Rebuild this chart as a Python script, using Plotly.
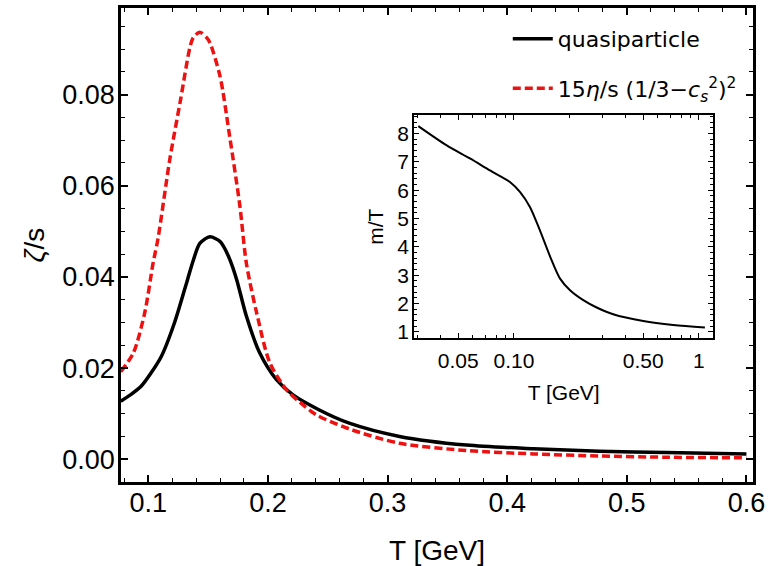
import plotly.graph_objects as go

# ---- data ----
T_quasi = [0.077, 0.085, 0.094, 0.102, 0.111, 0.122, 0.1328, 0.1376, 0.1432, 0.1516,
           0.1599, 0.1627, 0.1682, 0.1739, 0.182, 0.193, 0.207, 0.221, 0.243, 0.268,
           0.31, 0.366, 0.422, 0.477, 0.533, 0.6]
zeta_quasi = [0.0127, 0.0141, 0.0160, 0.0188, 0.0226, 0.0300, 0.0394, 0.0436, 0.0474, 0.0488,
              0.0478, 0.0468, 0.0438, 0.0394, 0.0314, 0.0234, 0.0175, 0.0141, 0.0108, 0.0079,
              0.0050, 0.0031, 0.0023, 0.00176, 0.00146, 0.00116]

T_ratio = [0.077, 0.0875, 0.097, 0.104, 0.108, 0.118, 0.127, 0.135, 0.1376, 0.143,
           0.1488, 0.1515, 0.160, 0.168, 0.1766, 0.182, 0.1906, 0.2017, 0.2156, 0.2267,
           0.2407, 0.2685, 0.310, 0.366, 0.422, 0.477, 0.533, 0.6]
zeta_ratio = [0.0192, 0.0233, 0.0321, 0.0430, 0.0482, 0.0658, 0.0789, 0.0906, 0.0925, 0.0937,
              0.0925, 0.0914, 0.0840, 0.0709, 0.0555, 0.0430, 0.0321, 0.0211, 0.0152, 0.0125,
              0.0097, 0.0066, 0.0035, 0.0019, 0.00116, 0.0007, 0.00044, 0.00029]

T_inset = [0.0304, 0.0433, 0.0578, 0.0741, 0.0951, 0.1077, 0.122, 0.138, 0.157, 0.1775,
           0.201, 0.237, 0.280, 0.344, 0.500, 0.726, 1.077]
mT_inset = [8.26, 7.58, 7.12, 6.70, 6.29, 5.94, 5.41, 4.59, 3.65, 2.88,
            2.47, 2.12, 1.86, 1.62, 1.38, 1.24, 1.15]

x_ticks = [0.1, 0.2, 0.3, 0.4, 0.5, 0.6]
x_ticklabels = ["0.1", "0.2", "0.3", "0.4", "0.5", "0.6"]
y_ticks = [0.0, 0.02, 0.04, 0.06, 0.08]
y_ticklabels = ["0.00", "0.02", "0.04", "0.06", "0.08"]
inset_xticks = [0.05, 0.1, 0.5, 1]
inset_xticklabels = ["0.05", "0.10", "0.50", "1"]
inset_xminor = [0.03, 0.04, 0.06, 0.07, 0.08, 0.09, 0.2, 0.3, 0.4, 0.6, 0.7, 0.8, 0.9]
inset_yticks = [1, 2, 3, 4, 5, 6, 7, 8]

FONT = "Liberation Sans, Arial, Helvetica, sans-serif"
LEGFONT = "DejaVu Sans, Liberation Sans, sans-serif"
RED = "#ee1111"

fig = go.Figure()
fig.add_trace(go.Scatter(x=T_quasi, y=zeta_quasi, mode="lines", name="quasiparticle",
                         line=dict(color="black", width=3.5, shape="spline", smoothing=0.8),
                         xaxis="x", yaxis="y", legendgroup="a"))
fig.add_trace(go.Scatter(x=T_ratio, y=zeta_ratio, mode="lines",
                         name="15<i>η</i>/s (1/3−<i>c</i><sub><i>s</i></sub><sup>2</sup>)<sup>2</sup>",
                         line=dict(color=RED, width=3.5, dash="8px,4px", shape="spline", smoothing=0.8),
                         xaxis="x", yaxis="y", legendgroup="b"))
fig.add_trace(go.Scatter(x=T_inset, y=mT_inset, mode="lines", showlegend=False,
                         line=dict(color="black", width=2, shape="spline", smoothing=0.8),
                         xaxis="x2", yaxis="y2"))

axis_common = dict(showline=True, linecolor="black", mirror="ticks", ticks="inside",
                   tickcolor="black", showgrid=False, zeroline=False, automargin=False)

fig.update_layout(
    width=782, height=566,
    margin=dict(l=121, r=29, t=8, b=84),
    paper_bgcolor="white", plot_bgcolor="white",
    font=dict(family=FONT, color="black"),
    showlegend=True,
    legend=dict(x=0.612, y=0.979, xanchor="left", yanchor="top",
                font=dict(size=22, family=LEGFONT), bgcolor="rgba(0,0,0,0)",
                tracegroupgap=18, itemwidth=40),
    xaxis=dict(axis_common, domain=[0, 1], range=[0.0772, 0.6055], linewidth=2.5,
               tickvals=x_ticks, ticktext=x_ticklabels, ticklen=7, tickwidth=1.5,
               tickfont=dict(size=27), ticklabelstandoff=-5,
               minor=dict(ticks="inside", dtick=0.02, tick0=0, ticklen=4, tickwidth=1.2, tickcolor="black"),
               title=dict(text="T [GeV]", font=dict(size=28), standoff=31)),
    yaxis=dict(axis_common, domain=[0, 1], range=[-0.005, 0.099], linewidth=2.5,
               tickvals=y_ticks, ticktext=y_ticklabels, ticklen=7, tickwidth=1.5,
               tickfont=dict(size=27), ticklabelstandoff=-2,
               minor=dict(ticks="inside", dtick=0.005, tick0=0, ticklen=4, tickwidth=1.2, tickcolor="black"),
               title=dict(text="<i>ζ</i>/s", font=dict(size=28), standoff=10)),
    xaxis2=dict(axis_common, domain=[0.464, 0.937], anchor="y2", type="log",
                range=[-1.539, 0.077], linewidth=2,
                tickvals=inset_xticks, ticktext=inset_xticklabels, ticklen=5, tickwidth=1.2,
                tickfont=dict(size=21), ticklabelstandoff=2,
                minor=dict(ticks="inside", tickvals=inset_xminor, ticklen=3, tickwidth=1, tickcolor="black"),
                title=dict(text="T [GeV]", font=dict(size=21), standoff=15)),
    yaxis2=dict(axis_common, domain=[0.303, 0.774], anchor="x2", range=[0.77, 8.65],
                linewidth=2, tickvals=inset_yticks, ticklen=5, tickwidth=1.2,
                tickfont=dict(size=21), ticklabelstandoff=-1,
                minor=dict(ticks="inside", dtick=0.2, tick0=0, ticklen=3, tickwidth=1, tickcolor="black"),
                title=dict(text="m/T", font=dict(size=21), standoff=8)),
)

fig.write_html("out.html", config={"displayModeBar": False},
               post_script="document.body.style.margin='0';")
